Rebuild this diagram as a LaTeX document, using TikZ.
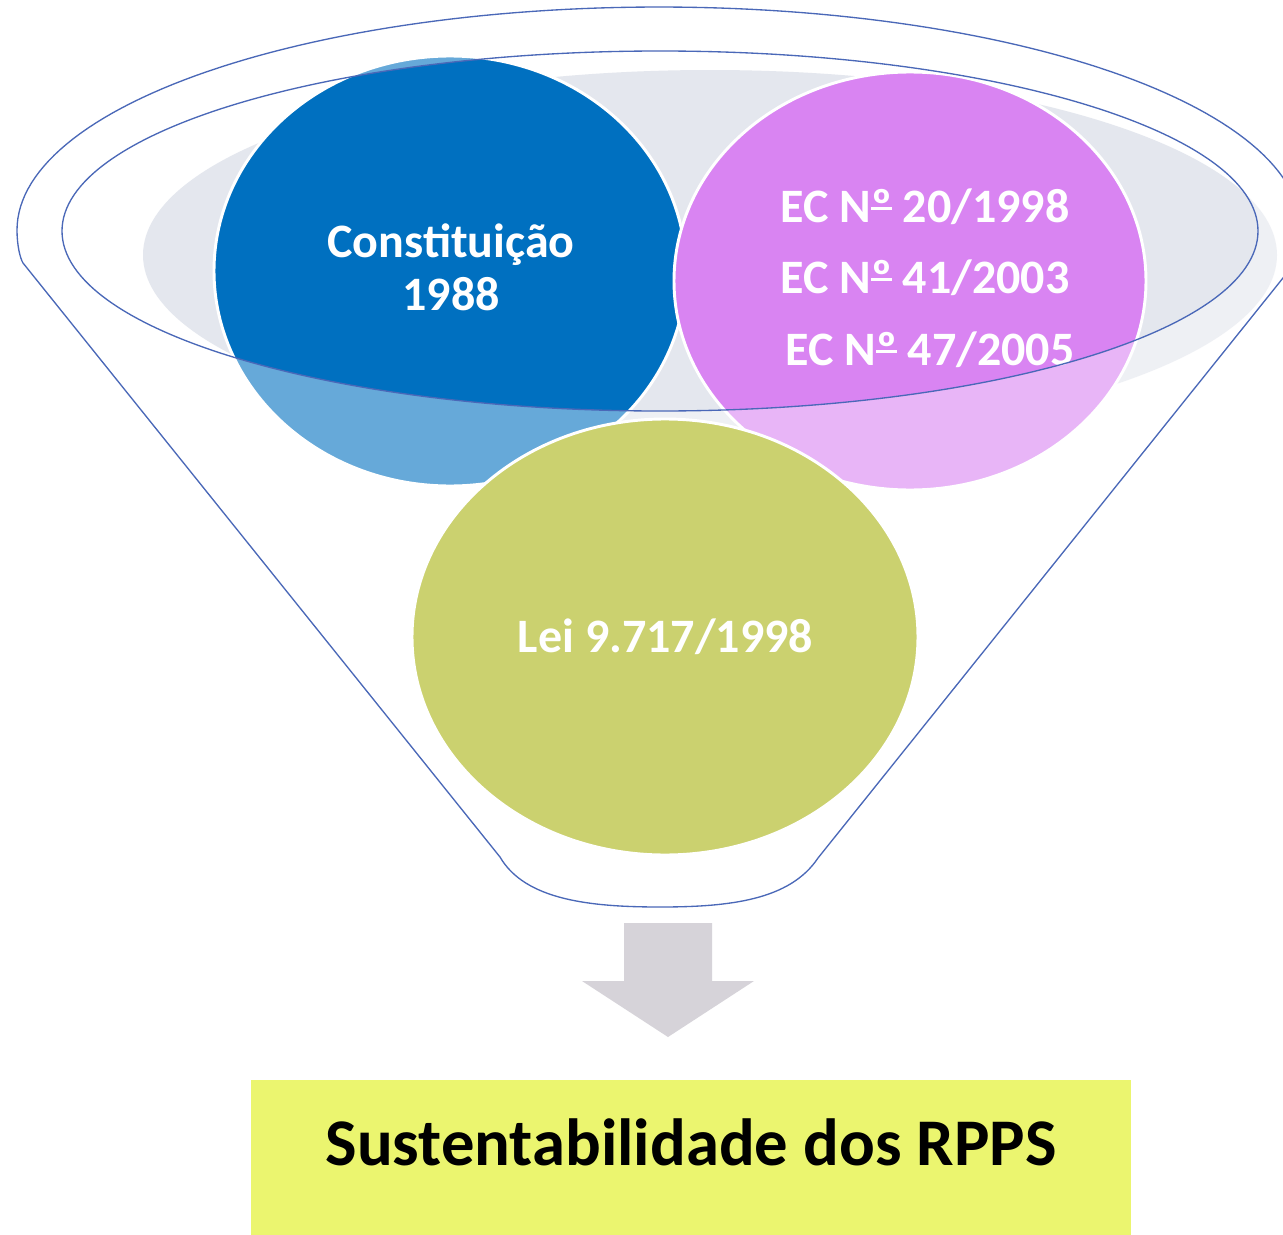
\documentclass[tikz,border=0pt]{standalone}
\usepackage{fontspec}
\setmainfont{Carlito}
\usetikzlibrary{shapes.geometric}
\definecolor{grayell}{HTML}{E4E7EE}
\definecolor{blueC}{HTML}{0070C0}
\definecolor{purpC}{HTML}{D984F2}
\definecolor{greenC}{HTML}{CBD16F}
\definecolor{lineC}{HTML}{4A68B8}
\definecolor{arrowC}{HTML}{D6D3D9}
\definecolor{boxC}{HTML}{EBF56F}
\newcommand{\ordU}{{\setbox0\hbox{º}\rlap{\copy0}\rlap{\raise0.24em\hbox{\vrule width\wd0 height 0.065em depth 0pt}}\hskip\wd0}}
\tikzset{
  circ/.style={line width=2.2pt, draw=white},
  wtxt/.style={text=white, font=\bfseries\fontsize{36}{42}\selectfont, anchor=base, inner sep=0pt},
  rim/.style={draw=lineC, line width=1pt},
}
\begin{document}
\begin{tikzpicture}[x=0.75pt,y=-0.75pt]
\clip (0,0) rectangle (1283,1235);
\fill[white] (0,0) rectangle (1283,1235);
% gray top ellipse
\fill[grayell] (710,255) ellipse [x radius=567, y radius=185];
% blue circle
\filldraw[circ, fill=blueC] (450,271) ellipse [x radius=236, y radius=215];
\node[wtxt] (c1) at (451,257) {Constituição};
\node[wtxt] (c2) at (451,310) {1988};
% purple circle
\filldraw[circ, fill=purpC] (910,281) ellipse [x radius=236, y radius=209];
\node[wtxt] (e1) at (925,222) {EC N\ordU{} 20/1998};
\node[wtxt] (e2) at (925,293) {EC N\ordU{} 41/2003};
\node[wtxt] (e3) at (930,365) {EC N\ordU{} 47/2005};
% translucent funnel body outside the opening
\fill[white, fill opacity=0.4, even odd rule]
  (23,263) .. controls (20,258) and (17,245) .. (17,230)
  -- plot[domain=180:0, samples=120] ({659+642*cos(\x)},{230-223*sin(\x)})
  .. controls (1301,245) and (1298,258) .. (1295,263)
  -- (818,858) .. controls (790,900) and (730,907) .. (660,907)
  .. controls (590,907) and (525,900) .. (500,857) -- cycle
  (660,231) ellipse [x radius=598, y radius=180];
% green circle
\filldraw[circ, fill=greenC] (665,637) ellipse [x radius=253, y radius=218];
\node[wtxt] (l1) at (665.5,652) {Lei 9.717/1998};
% funnel outline
\draw[rim]
  (23,263) .. controls (20,258) and (17,245) .. (17,230)
  -- plot[domain=180:0, samples=120] ({659+642*cos(\x)},{230-223*sin(\x)})
  .. controls (1301,245) and (1298,258) .. (1295,263)
  -- (818,858) .. controls (790,900) and (730,907) .. (660,907)
  .. controls (590,907) and (525,900) .. (500,857) -- cycle;
\draw[rim] (660,231) ellipse [x radius=598, y radius=180];
% arrow
\fill[arrowC] (624,923) -- (712,923) -- (712,981) -- (754,981) -- (668,1037) -- (582,981) -- (624,981) -- cycle;
% result box
\fill[boxC] (251,1080) rectangle (1131,1235);
\node[anchor=base, inner sep=0pt, font=\bfseries\fontsize{50}{60}\selectfont] (res) at (691,1165) {Sustentabilidade dos RPPS};
\end{tikzpicture}
\end{document}
